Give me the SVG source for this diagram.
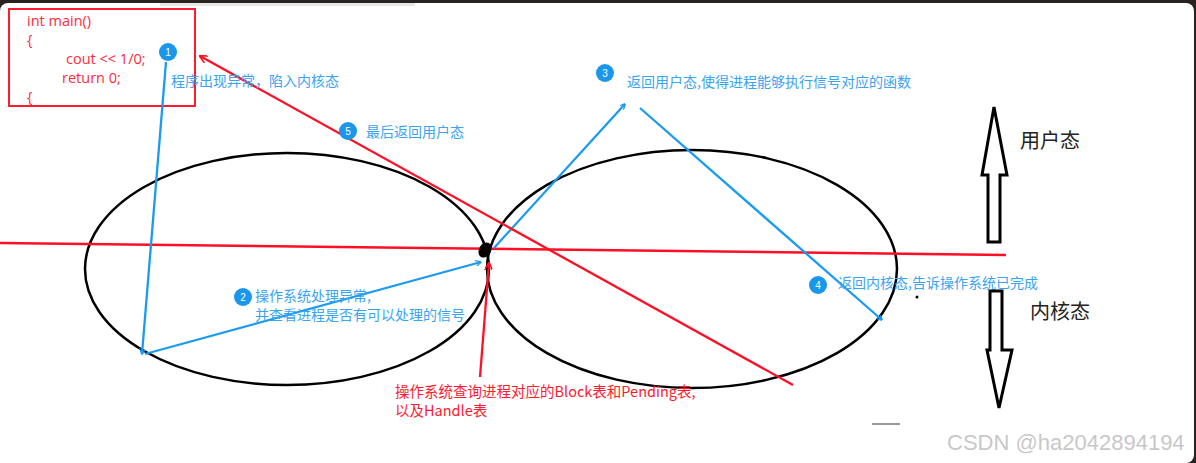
<svg xmlns="http://www.w3.org/2000/svg" width="1196" height="463" viewBox="0 0 1196 463">
<defs>
<style>
.code{font-family:"Open Sans","Noto Sans",sans-serif;font-size:14.5px;fill:#ff2a3a}
.bt{font-family:"Noto Sans CJK SC",sans-serif;font-size:14px;fill:#3aa3f2}
.rt{font-family:"Noto Sans CJK SC",sans-serif;font-size:14.5px;fill:#ff1a2e}
.kt{font-family:"Noto Sans CJK SC",sans-serif;font-size:20px;fill:#222}
.num{font-family:"Liberation Sans",sans-serif;font-size:10px;fill:#fff;text-anchor:middle}
.badge{fill:#1a96ea}
.bl{stroke:#1a9af0;stroke-width:2.3;fill:none}
.rl{stroke:#ff0f25;stroke-width:2.3;fill:none}
.ell{stroke:#000;stroke-width:2.5;fill:none}
.big{stroke:#000;stroke-width:3;fill:#fff;stroke-linejoin:miter}
</style>
<marker id="ab" viewBox="0 0 10 10" refX="9" refY="5" markerWidth="6" markerHeight="6" orient="auto" markerUnits="userSpaceOnUse"><path d="M0,0 L10,5 L0,10" fill="none" stroke="#1a9af0" stroke-width="2"/></marker>
<marker id="ar" viewBox="0 0 10 10" refX="9" refY="5" markerWidth="8" markerHeight="8" orient="auto" markerUnits="userSpaceOnUse"><path d="M0,0 L10,5 L0,10" fill="none" stroke="#ff0f25" stroke-width="2"/></marker>
</defs>
<rect x="0" y="0" width="1196" height="463" fill="#2a221e"/>
<path d="M8,3 H1186 A8,8 0 0 1 1194,11 V455 A8,8 0 0 1 1186,463 H0 V11 A8,8 0 0 1 8,3 Z" fill="#fff"/>
<rect x="160" y="3" width="255" height="3" fill="#e6e6e6"/>

<g id="codebox">
<rect x="9" y="9" width="186" height="97" fill="none" stroke="#ff1a2e" stroke-width="2"/>
<text class="code" x="27" y="26">int main()</text>
<text class="code" x="27" y="45">{</text>
<text class="code" x="66" y="64">cout &lt;&lt; 1/0;</text>
<text class="code" x="62" y="83">return 0;</text>
<text class="code" x="27" y="102">{</text>
</g>

<g id="user-ellipse"><ellipse class="ell" cx="287" cy="269" rx="202" ry="116"/></g>
<g id="kernel-ellipse"><ellipse class="ell" cx="692" cy="269" rx="205" ry="119"/></g>

<g id="connectors">
<path d="M0,243 L1006,255" stroke="#ff0f25" stroke-width="2.5" fill="none"/>
<path class="bl" d="M166,62 L142,354" marker-end="url(#ab)"/>
<path class="bl" d="M145,354 L481,262" marker-end="url(#ab)"/>
<path class="bl" d="M494,248 L625,104" marker-end="url(#ab)"/>
<path class="bl" d="M640,108 L882,320" marker-end="url(#ab)"/>
<path class="rl" d="M793,385 L200,56" marker-end="url(#ar)"/>
<path class="rl" d="M480,377 L489,263" marker-end="url(#ar)"/>
</g>

<g id="junction"><ellipse cx="485" cy="250" rx="6" ry="8" transform="rotate(30 485 250)" fill="#000"/></g>

<g id="step1">
<circle class="badge" cx="168" cy="52" r="9"/><text class="num" x="168" y="56">1</text>
<text class="bt" x="171" y="86">程序出现异常，陷入内核态</text>
</g>
<g id="step2">
<circle class="badge" cx="243" cy="297" r="9"/><text class="num" x="243" y="301">2</text>
<text class="bt" x="255" y="301">操作系统处理异常,</text>
<text class="bt" x="255" y="320">并查看进程是否有可以处理的信号</text>
</g>
<g id="step3">
<circle class="badge" cx="605" cy="73" r="9"/><text class="num" x="605" y="77">3</text>
<text class="bt" x="627" y="87">返回用户态,使得进程能够执行信号对应的函数</text>
</g>
<g id="step4">
<circle class="badge" cx="818" cy="285" r="9"/><text class="num" x="818" y="289">4</text>
<text class="bt" x="838" y="288">返回内核态,告诉操作系统已完成</text>
</g>
<g id="step5">
<circle class="badge" cx="348" cy="131" r="9"/><text class="num" x="348" y="135">5</text>
<text class="bt" x="366" y="137">最后返回用户态</text>
</g>
<g id="os-note">
<text class="rt" x="395" y="397">操作系统查询进程对应的Block表和Pending表,</text>
<text class="rt" x="395" y="416">以及Handle表</text>
</g>

<g id="up-arrow">
<path class="big" d="M988,242 V175 H982 L994,107 L1007,175 H1000 V242 Z"/>
<text class="kt" x="1020" y="148">用户态</text>
</g>
<g id="down-arrow">
<path class="big" d="M990,291 H1002 V350 H1012 L999,408 L987,350 H990 Z"/>
<text class="kt" x="1030" y="319">内核态</text>
</g>

<circle cx="917" cy="297" r="1.5" fill="#000"/>
<line x1="872" y1="424" x2="900" y2="424" stroke="#333" stroke-width="1"/>
<text x="947" y="450" font-family="Liberation Sans,sans-serif" font-size="22" fill="#c8c8c8">CSDN @ha2042894194</text>
</svg>
